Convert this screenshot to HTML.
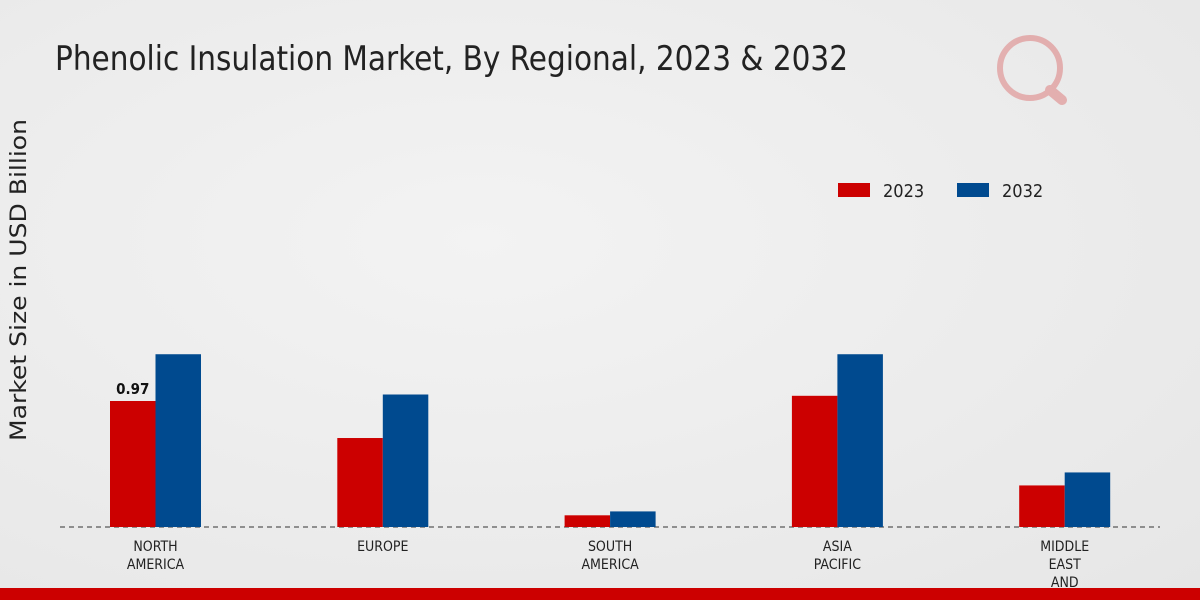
<!DOCTYPE html>
<html><head><meta charset="utf-8"><style>
body{margin:0;width:1200px;height:600px;overflow:hidden;font-family:"DejaVu Sans Condensed","Liberation Sans",sans-serif;}
#c{position:absolute;left:0;top:0;width:1200px;height:600px;background:radial-gradient(ellipse at 40% 40%,#f3f3f3 0%,#e6e6e6 100%);}
</style></head><body>
<div id="c">
<svg width="1200" height="600" id="svg">
<text x="55" y="70" font-size="34" fill="#222" textLength="793" lengthAdjust="spacingAndGlyphs">Phenolic Insulation Market, By Regional, 2023 &amp; 2032</text>
<text transform="translate(26,280) rotate(-90)" text-anchor="middle" font-size="22" fill="#222" textLength="322" lengthAdjust="spacingAndGlyphs" style="font-family:'DejaVu Sans',sans-serif">Market Size in USD Billion</text>
<g>
<rect x="838" y="183" width="32" height="14" fill="#cc0000"/>
<text x="883" y="197" font-size="18" fill="#222">2023</text>
<rect x="957" y="183" width="32" height="14" fill="#004a8f"/>
<text x="1002" y="197" font-size="18" fill="#222">2032</text>
</g>
<g opacity="0.25">
<circle cx="1030" cy="68" r="30" fill="none" stroke="#cc0000" stroke-width="6"/>
<line x1="1050" y1="90" x2="1062" y2="100" stroke="#cc0000" stroke-width="10" stroke-linecap="round"/>
</g>
<line x1="60" y1="527" x2="1160" y2="527" stroke="#333" stroke-dasharray="5,4"/>
<g id="bars"></g>
<rect x="0" y="588" width="1200" height="12" fill="#cc0000"/>
</svg></div>
<script>
const categories=[["NORTH","AMERICA"],["EUROPE"],["SOUTH","AMERICA"],["ASIA","PACIFIC"],["MIDDLE","EAST","AND","AFRICA"]];
const values2023=[0.97,0.685,0.09,1.01,0.32];
const values2032=[1.33,1.02,0.12,1.33,0.42];
const labels2023=["0.97","","","",""];
const base=527,scale=129.9;
const y=v=>base-v*scale;
const cx=i=>155.5+i*227.3;
const g=document.getElementById('bars');
const NS="http://www.w3.org/2000/svg";
function rect(x,v,fill,name){const r=document.createElementNS(NS,'rect');
r.setAttribute('x',x);r.setAttribute('y',y(v));r.setAttribute('width',45.5);r.setAttribute('height',base-y(v));r.setAttribute('fill',fill);


g.appendChild(r);}
categories.forEach((c,i)=>{
rect(cx(i)-45.5,values2023[i],'#cc0000','bar-2023-'+i);
rect(cx(i),values2032[i],'#004a8f','bar-2032-'+i);
if(labels2023[i]){const t=document.createElementNS(NS,'text');t.setAttribute('x',cx(i)-22.7);t.setAttribute('y',y(values2023[i])-7);t.setAttribute('text-anchor','middle');t.setAttribute('font-size','15');t.setAttribute('font-weight','bold');t.setAttribute('fill','#111');t.textContent=labels2023[i];


g.appendChild(t);}
c.forEach((line,k)=>{const t=document.createElementNS(NS,'text');t.setAttribute('x',cx(i));t.setAttribute('y',551+k*18);t.setAttribute('text-anchor','middle');t.setAttribute('font-size','14');t.setAttribute('fill','#222');t.textContent=line;


g.appendChild(t);});
});
</script>
</body></html>
